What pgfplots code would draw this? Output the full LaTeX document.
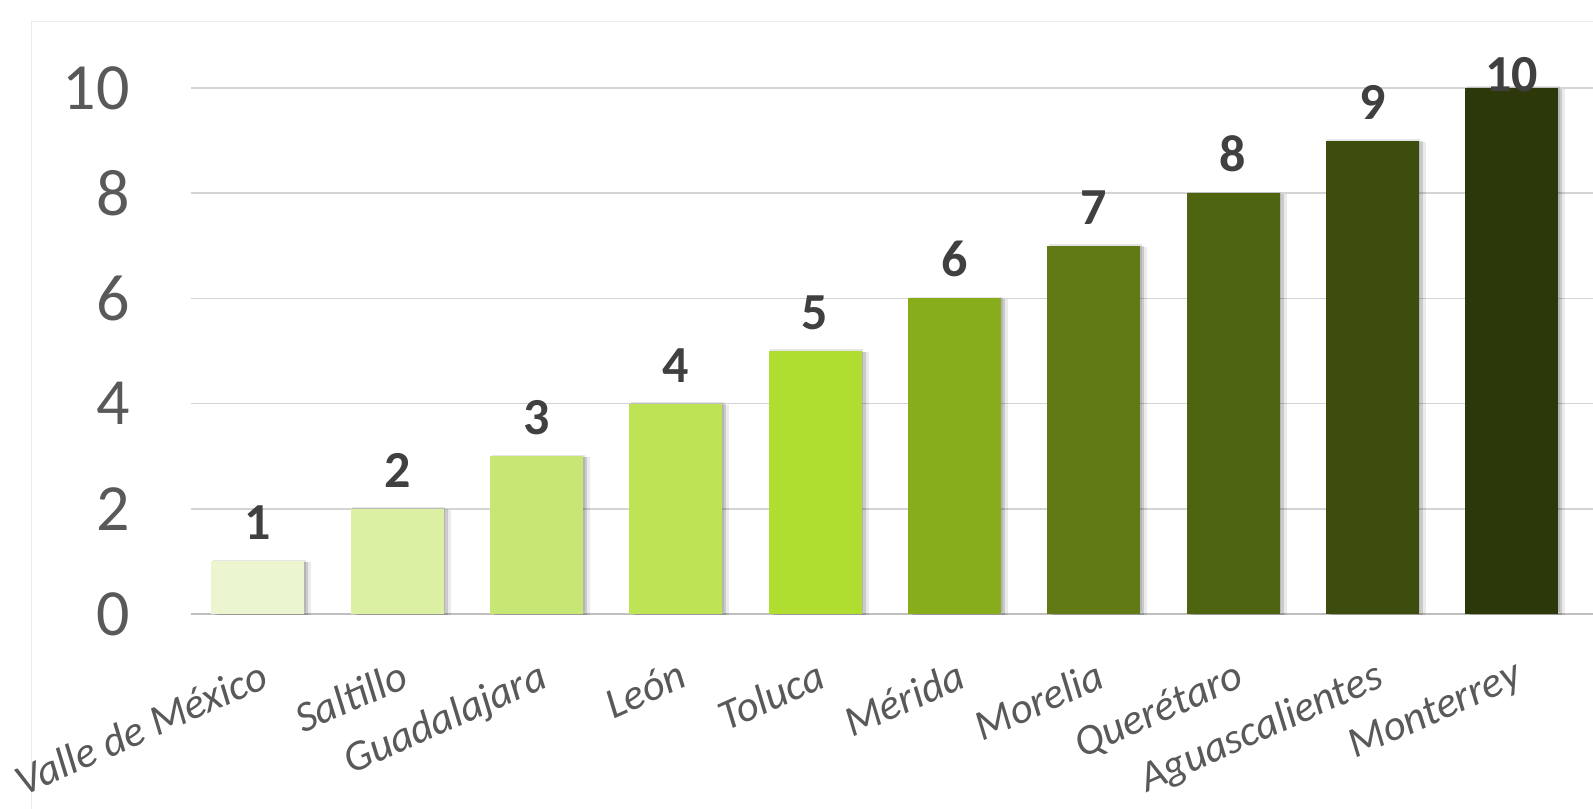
\documentclass[border=0pt]{standalone}
\usepackage{pgfplots}
\pgfplotsset{compat=1.18}
\usepackage{fontspec}
\setmainfont{Carlito}

% picture is drawn at half scale: 1 reference pixel = 0.5bp
\definecolor{c1}{HTML}{EBF5D0}
\definecolor{c2}{HTML}{DCF0A3}
\definecolor{c3}{HTML}{C8E673}
\definecolor{c4}{HTML}{BEE354}
\definecolor{c5}{HTML}{B0DE30}
\definecolor{c6}{HTML}{88AD1C}
\definecolor{c7}{HTML}{617A16}
\definecolor{c8}{HTML}{4F6410}
\definecolor{c9}{HTML}{3D4D0E}
\definecolor{c10}{HTML}{2C380A}
\definecolor{ticktext}{HTML}{595959}
\definecolor{labeltext}{HTML}{404040}

\pgfplotsset{
  citybar/.style={fill=#1, draw=none,
    preaction={fill=black, fill opacity=0.08, transform canvas={xshift=3.5bp, yshift=-0.5bp}},
    preaction={fill=black, fill opacity=0.14, transform canvas={xshift=2bp, yshift=-0.3bp}},
    preaction={fill=black, fill opacity=0.10, transform canvas={xshift=0.8bp, yshift=0.8bp}}},
}

\begin{document}
\begin{tikzpicture}[trim left=0bp, trim right=796.5bp]
\path (0,0) rectangle (796.5bp,404.5bp);
\clip (0,0) rectangle (796.5bp,404.5bp);
% chart area border
\draw[black!8, line width=0.75bp] (15.75bp,0bp) |- (796.5bp,393.75bp);

\begin{axis}[
  at={(95.5bp,97.5bp)}, anchor=south west,
  scale only axis,
  width=701bp, height=263bp,
  xmin=-0.48, xmax=9.584,
  ymin=0, ymax=10,
  clip=false,
  ybar, bar width=46.5bp, bar shift=0pt,
  axis line style={draw=none},
  tick style={draw=none},
  major tick length=0pt,
  ymajorgrids, grid style={draw=black!17, line width=0.75bp},
  ytick={0,2,4,6,8,10},
  extra y ticks={0}, extra y tick labels={},
  extra y tick style={grid=major, major grid style={draw=black!25, line width=1.25bp}},
  xtick={0,...,9},
  xticklabels={Valle de México, Saltillo, Guadalajara, León, Toluca, Mérida, Morelia, Querétaro, Aguascalientes, Monterrey},
  /pgf/number format/assume math mode=true,
  yticklabel style={anchor=east, inner sep=0pt, xshift=-30.5bp, text=ticktext,
    font=\fontsize{33bp}{35bp}\selectfont},
  xticklabel style={overlay, rotate=24, anchor=north east, inner sep=0pt, yshift=-20.5bp, xshift=-8.5bp,
    text=ticktext, font=\fontsize{21.5bp}{24bp}\selectfont\itshape},
  nodes near coords,
  every node near coord/.append style={anchor=south, inner sep=0pt, yshift=10.5bp,
    text=labeltext, font=\fontsize{26bp}{28bp}\selectfont\bfseries},
]
\addplot[citybar=c1] coordinates {(0,1)};
\addplot[citybar=c2] coordinates {(1,2)};
\addplot[citybar=c3] coordinates {(2,3)};
\addplot[citybar=c4] coordinates {(3,4)};
\addplot[citybar=c5] coordinates {(4,5)};
\addplot[citybar=c6] coordinates {(5,6)};
\addplot[citybar=c7] coordinates {(6,7)};
\addplot[citybar=c8] coordinates {(7,8)};
\addplot[citybar=c9] coordinates {(8,9)};
\addplot[citybar=c10, every node near coord/.append style={yshift=-12.5bp}] coordinates {(9,10)};
\end{axis}
\end{tikzpicture}
\end{document}
